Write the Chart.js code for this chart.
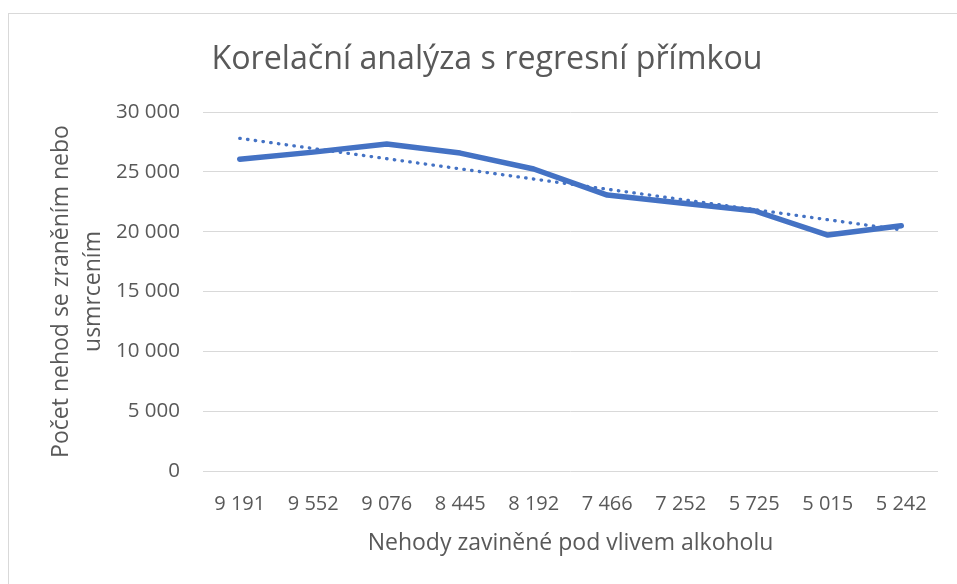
<!DOCTYPE html>
<html>
<head>
<meta charset="utf-8">
<script src="https://cdn.jsdelivr.net/npm/chart.js@4"></script>
<style>
  html, body { margin: 0; padding: 0; background: #ffffff; }
  #wrap { position: relative; width: 957px; height: 584px; overflow: hidden; }
  #frame {
    position: absolute; left: 8px; top: 13px; width: 960px; height: 580px;
    border: 1px solid #d9d9d9; pointer-events: none;
  }
</style>
</head>
<body>
<div id="wrap">
  <canvas id="corrChart" width="957" height="584"></canvas>
  <div id="frame"></div>
</div>
<script>
// x categories: accidents under the influence of alcohol
const categories = ['9 191', '9 552', '9 076', '8 445', '8 192', '7 466', '7 252', '5 725', '5 015', '5 242'];

// accidents with injury or death
const accidents = [26050, 26650, 27330, 26570, 25240, 23060, 22400, 21750, 19720, 20500];

// regression line, read at its two ends
const trendLine = [27800, null, null, null, null, null, null, null, null, 20150];

const yTicks = [0, 5000, 10000, 15000, 20000, 25000, 30000];

const textColor = '#595959';
const fontFamily = '"Open Sans", "Noto Sans", sans-serif';

// format 25000 -> '25 000'
function formatThousands(value) {
  return String(value).replace(/\B(?=(\d{3})+(?!\d))/g, ' ');
}

const ctx = document.getElementById('corrChart');

new Chart(ctx, {
  type: 'line',
  data: {
    labels: categories,
    datasets: [{
      label: 'Lineární trend',
      data: trendLine,
      borderColor: '#4472c4',
      borderWidth: 3.3,
      borderDash: [0.5, 7.3],
      borderCapStyle: 'round',
      pointRadius: 0,
      spanGaps: true,
      fill: false,
      order: 0
    }, {
      label: 'Počet nehod',
      data: accidents,
      borderColor: '#4472c4',
      borderWidth: 5.5,
      borderCapStyle: 'round',
      borderJoinStyle: 'round',
      pointRadius: 0,
      tension: 0,
      fill: false,
      order: 1
    }]
  },
  options: {
    responsive: false,
    animation: false,
    layout: {
      padding: { left: 36, right: 19, top: 0, bottom: 0 }
    },
    plugins: {
      legend: { display: false },
      tooltip: { enabled: false },
      title: {
        display: true,
        text: 'Korelační analýza s regresní přímkou',
        color: textColor,
        font: { family: fontFamily, size: 32.2, weight: 'normal', lineHeight: 1.2 },
        padding: { top: 40.7, bottom: 32.7 }
      }
    },
    scales: {
      x: {
        offset: true,
        grid: { display: false, drawTicks: false },
        border: { display: false },
        ticks: {
          color: textColor,
          font: { family: fontFamily, size: 20 },
          padding: 21,
          maxRotation: 0,
          autoSkip: false
        },
        title: {
          display: true,
          text: 'Nehody zaviněné pod vlivem alkoholu',
          color: textColor,
          font: { family: fontFamily, size: 23, lineHeight: 1.2 },
          padding: { top: 0, bottom: 27.2 }
        },
        afterFit: function(scale) {
          scale.height = 584 - 471;
        }
      },
      y: {
        min: 0,
        max: 30000,
        afterBuildTicks: function(scale) {
          scale.ticks = yTicks.map(v => ({ value: v }));
        },
        grid: {
          color: '#d9d9d9',
          lineWidth: 1,
          drawTicks: false
        },
        border: { display: false },
        ticks: {
          color: textColor,
          font: { family: fontFamily, size: 20.5 },
          padding: 23,
          callback: function(value) {
            return formatThousands(value);
          }
        },
        title: {
          display: true,
          text: ['Počet nehod se zraněním nebo', 'usmrcením'],
          color: textColor,
          font: { family: fontFamily, size: 23, lineHeight: 1.4 },
          padding: { top: 8.9, bottom: 0 }
        },
        afterFit: function(scale) {
          scale.width = 203 - 36;
        }
      }
    }
  }
});
</script>
</body>
</html>
